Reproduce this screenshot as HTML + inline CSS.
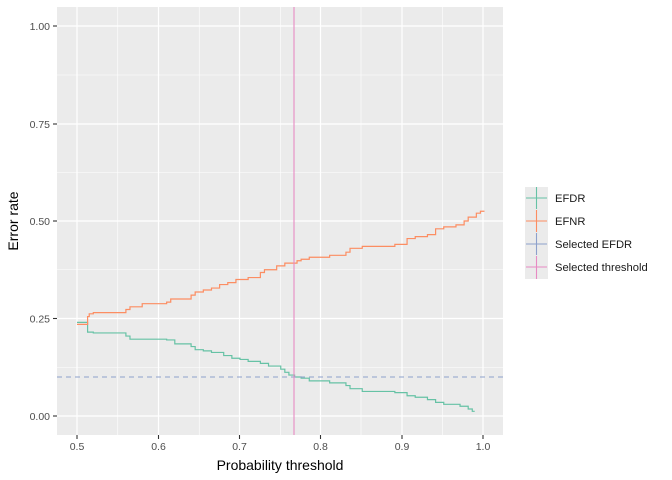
<!DOCTYPE html>
<html><head><style>body{margin:0;background:#fff}svg{display:block;font-family:"Liberation Sans",sans-serif}</style></head>
<body>
<svg id="s" width="672" height="480" xmlns="http://www.w3.org/2000/svg">
<rect x="57" y="7" width="446" height="428" fill="#EBEBEB"/>
<g stroke="#fff" stroke-width="0.6">
<line x1="57" x2="503" y1="367.25" y2="367.25"/><line x1="57" x2="503" y1="269.75" y2="269.75"/><line x1="57" x2="503" y1="172.5" y2="172.5"/><line x1="57" x2="503" y1="75" y2="75"/>
<line y1="7" y2="435" x1="117.75" x2="117.75"/><line y1="7" y2="435" x1="199.25" x2="199.25"/><line y1="7" y2="435" x1="280.5" x2="280.5"/><line y1="7" y2="435" x1="361" x2="361"/><line y1="7" y2="435" x1="442.5" x2="442.5"/>
</g>
<g stroke="#fff" stroke-width="1.2">
<line x1="57" x2="503" y1="416" y2="416"/><line x1="57" x2="503" y1="318.5" y2="318.5"/><line x1="57" x2="503" y1="221" y2="221"/><line x1="57" x2="503" y1="124" y2="124"/><line x1="57" x2="503" y1="26" y2="26"/>
<line y1="7" y2="435" x1="77" x2="77"/><line y1="7" y2="435" x1="158.5" x2="158.5"/><line y1="7" y2="435" x1="239.5" x2="239.5"/><line y1="7" y2="435" x1="320.5" x2="320.5"/><line y1="7" y2="435" x1="402" x2="402"/><line y1="7" y2="435" x1="483" x2="483"/>
</g>
<g id="lines"></g>
<line x1="57" x2="503" y1="377" y2="377" stroke="#8DA0CB" stroke-width="1.1" stroke-dasharray="5,4"/>
<line x1="294" x2="294" y1="7" y2="435" stroke="#E78AC3" stroke-width="1.1"/>
<g stroke="#333" stroke-width="1.1">
<line x1="53" x2="57" y1="416" y2="416"/><line x1="53" x2="57" y1="318.5" y2="318.5"/><line x1="53" x2="57" y1="221" y2="221"/><line x1="53" x2="57" y1="124" y2="124"/><line x1="53" x2="57" y1="26" y2="26"/>
<line y1="435" y2="439" x1="77" x2="77"/><line y1="435" y2="439" x1="158.5" x2="158.5"/><line y1="435" y2="439" x1="239.5" x2="239.5"/><line y1="435" y2="439" x1="320.5" x2="320.5"/><line y1="435" y2="439" x1="402" x2="402"/><line y1="435" y2="439" x1="483" x2="483"/>
</g>
<g font-size="10.5" fill="#4D4D4D" text-anchor="end">
<text x="50" y="420">0.00</text><text x="50" y="322.5">0.25</text><text x="50" y="225">0.50</text><text x="50" y="128">0.75</text><text x="50" y="30">1.00</text>
</g>
<g font-size="10.5" fill="#4D4D4D" text-anchor="middle">
<text x="77" y="450">0.5</text><text x="158.5" y="450">0.6</text><text x="239.5" y="450">0.7</text><text x="320.5" y="450">0.8</text><text x="402" y="450">0.9</text><text x="483" y="450">1.0</text>
</g>
<text x="280" y="470" font-size="14" text-anchor="middle">Probability threshold</text>
<text transform="translate(18,221) rotate(-90)" font-size="14" text-anchor="middle">Error rate</text>
<rect x="525" y="187" width="23" height="92" fill="#EBEBEB"/>
<g stroke-width="1.1">
<line x1="526" x2="547" y1="198" y2="198" stroke="#66C2A5"/><line x1="536.5" x2="536.5" y1="187" y2="209" stroke="#66C2A5"/>
<line x1="526" x2="547" y1="221" y2="221" stroke="#FC8D62"/><line x1="536.5" x2="536.5" y1="210" y2="232" stroke="#FC8D62"/>
<line x1="526" x2="547" y1="244" y2="244" stroke="#8DA0CB"/><line x1="536.5" x2="536.5" y1="233" y2="255" stroke="#8DA0CB"/>
<line x1="526" x2="547" y1="267" y2="267" stroke="#E78AC3"/><line x1="536.5" x2="536.5" y1="256" y2="279" stroke="#E78AC3"/>
</g>
<g font-size="11.2" fill="#1a1a1a">
<text x="555" y="202">EFDR</text><text x="555" y="225">EFNR</text><text x="555" y="248">Selected EFDR</text><text x="555" y="271">Selected threshold</text>
</g>
</svg>
<script>
function X(v){return 77+(v-0.5)*815}
function Y(v){return 416-v*390}
function step(pts,end){var d="M"+X(pts[0][0])+","+Y(pts[0][1]);for(var i=1;i<pts.length;i++){d+="H"+X(pts[i][0])+"V"+Y(pts[i][1]);}d+="H"+X(end);return d;}
var fdr=[[0.5,0.24],[0.513,0.215],[0.52,0.213],[0.56,0.205],[0.565,0.197],[0.61,0.195],[0.62,0.185],[0.64,0.178],[0.645,0.17],[0.655,0.167],[0.665,0.163],[0.68,0.155],[0.69,0.148],[0.7,0.145],[0.71,0.14],[0.725,0.135],[0.735,0.128],[0.75,0.12],[0.755,0.112],[0.76,0.105],[0.767,0.1],[0.775,0.097],[0.785,0.09],[0.81,0.085],[0.83,0.078],[0.835,0.07],[0.85,0.063],[0.89,0.06],[0.905,0.052],[0.915,0.048],[0.93,0.042],[0.94,0.035],[0.95,0.03],[0.97,0.025],[0.98,0.018],[0.985,0.012]];
var fnr=[[0.5,0.235],[0.513,0.255],[0.515,0.262],[0.52,0.265],[0.56,0.273],[0.565,0.28],[0.58,0.288],[0.61,0.292],[0.615,0.3],[0.64,0.31],[0.645,0.318],[0.655,0.323],[0.665,0.328],[0.675,0.337],[0.685,0.342],[0.695,0.35],[0.71,0.355],[0.725,0.368],[0.73,0.375],[0.745,0.385],[0.755,0.392],[0.77,0.398],[0.775,0.402],[0.785,0.407],[0.81,0.412],[0.83,0.42],[0.835,0.43],[0.85,0.435],[0.89,0.44],[0.905,0.455],[0.915,0.46],[0.93,0.465],[0.94,0.48],[0.95,0.485],[0.965,0.49],[0.975,0.5],[0.98,0.51],[0.99,0.52],[0.995,0.525]];
var g=document.getElementById("lines");
g.innerHTML='<path d="'+step(fdr,0.988)+'" fill="none" stroke="#66C2A5" stroke-width="1.2"/><path d="'+step(fnr,1.0)+'" fill="none" stroke="#FC8D62" stroke-width="1.2"/>';
</script>
</body></html>
